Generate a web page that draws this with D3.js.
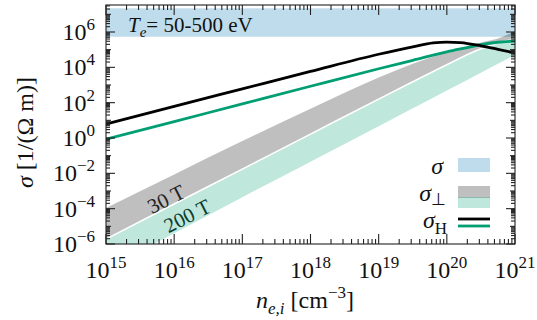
<!DOCTYPE html>
<html>
  <head>
    <meta charset="UTF-8" />
    <style>
      body { margin: 0; background: #fff; }
      svg { font-family: "Times New Roman", Times, "Liberation Serif", serif; }
    </style>
  </head>
  <body>
    <svg></svg>
    <script src="https://d3js.org/d3.v7.min.js"></script>
    <script>
      // all values are log10: [log10 n (cm^-3), log10 sigma (1/(Ohm m))]
      let sigmaBand = [5.73, 7.34]; // T_e = 50-500 eV
      let nGrid = [15, 16, 17, 18, 19, 19.5, 20, 20.5, 20.8, 21];
      let perp30Top = [-3.96, -2.06, -0.17, 1.65, 3.42, 4.2, 4.85, 5.4, 5.7, 6.05];
      let perp30Bottom = [-5.72, -3.74, -1.76, 0.22, 2.2, 3.18, 4.15, 5.05, 5.42, 5.6];
      let perp200Bottom = [-7.4, -5.39, -3.35, -1.34, 0.67, 1.68, 2.69, 3.7, 4.3, 4.7];
      let hall30 = [
        [15, 0.79], [16, 1.79], [17, 2.78], [18, 3.77], [19, 4.74],
        [19.5, 5.16], [19.8, 5.38], [20, 5.43], [20.2, 5.4], [20.5, 5.22],
        [20.75, 5.02], [21, 4.81],
      ];
      let hall200 = [
        [15, -0.07], [16, 0.93], [17, 1.93], [18, 2.93], [19, 3.92],
        [19.5, 4.4], [20, 4.88], [20.3, 5.12], [20.5, 5.28], [20.75, 5.42], [21, 5.49],
      ];
      let xTicks = [15, 16, 17, 18, 19, 20, 21];
      let yTicks = [-6, -4, -2, 0, 2, 4, 6];

      let width = 537,
        height = 320;
      let svg = d3.select("svg").attr("width", width).attr("height", height);

      let m = { left: 106, right: 515, top: 5, bottom: 244 };
      let x = d3.scaleLog().domain([1e15, 1e21]).range([m.left, m.right]);
      let y = d3.scaleLog().domain([1e-6, 1e6]).range([244, 32]);
      let X = (e) => x(Math.pow(10, e));
      let Y = (e) => y(Math.pow(10, e));

      svg.append("defs").append("clipPath").attr("id", "plot")
        .append("rect").attr("x", m.left).attr("y", m.top)
        .attr("width", m.right - m.left).attr("height", m.bottom - m.top);

      let plot = svg.append("g").attr("clip-path", "url(#plot)");

      // sigma band
      plot.append("rect")
        .attr("x", X(15)).attr("width", X(21) - X(15))
        .attr("y", Y(sigmaBand[1])).attr("height", Y(sigmaBand[0]) - Y(sigmaBand[1]))
        .attr("fill", "#0072b2").attr("fill-opacity", 0.25);

      let band = (topVals, botVals) => d3.area()
        .x((d, i) => X(nGrid[i]))
        .y0((d, i) => Y(botVals[i]))
        .y1((d, i) => Y(topVals[i]))
        .curve(d3.curveMonotoneX)(nGrid);

      plot.append("path").attr("d", band(perp30Top, perp30Bottom))
        .attr("fill", "#000").attr("fill-opacity", 0.25);
      plot.append("path").attr("d", band(perp30Bottom, perp200Bottom))
        .attr("fill", "#009e73").attr("fill-opacity", 0.25);
      plot.append("path")
        .attr("d", d3.line().x((d, i) => X(nGrid[i])).y((d) => Y(d)).curve(d3.curveMonotoneX)(perp30Bottom))
        .attr("fill", "none").attr("stroke", "#fff").attr("stroke-width", 1.6);

      let line = d3.line().x((d) => X(d[0])).y((d) => Y(d[1])).curve(d3.curveMonotoneX);
      plot.append("path").attr("d", line(hall200))
        .attr("fill", "none").attr("stroke", "#009e73").attr("stroke-width", 2.8);
      plot.append("path").attr("d", line(hall30))
        .attr("fill", "none").attr("stroke", "#000").attr("stroke-width", 2.8);

      // band labels
      plot.append("text").attr("transform", `translate(${X(15.88)},${Y(-3.45)}) rotate(-27)`)
        .attr("text-anchor", "middle").attr("dy", "0.35em")
        .attr("font-size", 21).attr("fill", "#222").text("30 T");
      plot.append("text").attr("transform", `translate(${X(16.19)},${Y(-4.4)}) rotate(-27)`)
        .attr("text-anchor", "middle").attr("dy", "0.35em")
        .attr("font-size", 21).attr("fill", "#0b3b2e").text("200 T");

      // T_e label
      let te = svg.append("text").attr("x", 128).attr("y", 32).attr("font-size", 21).attr("fill", "#111");
      te.append("tspan").attr("font-style", "italic").text("T");
      te.append("tspan").attr("font-style", "italic").attr("font-size", 15).attr("dy", 5).text("e");
      te.append("tspan").attr("dy", -5).text("= 50-500 eV");

      // frame and ticks
      let axisG = svg.append("g").attr("stroke", "#222").attr("stroke-width", 1.1);
      axisG.append("rect").attr("x", m.left).attr("y", m.top)
        .attr("width", m.right - m.left).attr("height", m.bottom - m.top).attr("fill", "none");

      let minor = [2, 3, 4, 5, 6, 7, 8, 9];
      xTicks.forEach((e) => {
        let px = X(e);
        axisG.append("line").attr("x1", px).attr("x2", px).attr("y1", m.bottom).attr("y2", m.bottom - 10);
        axisG.append("line").attr("x1", px).attr("x2", px).attr("y1", m.top).attr("y2", m.top + 10);
        if (e < 21) minor.forEach((k) => {
          let mx = x(k * Math.pow(10, e));
          axisG.append("line").attr("x1", mx).attr("x2", mx).attr("y1", m.bottom).attr("y2", m.bottom - 5);
          axisG.append("line").attr("x1", mx).attr("x2", mx).attr("y1", m.top).attr("y2", m.top + 5);
        });
      });
      d3.range(-6, 8).forEach((e) => {
        let py = Y(e);
        let len = e % 2 === 0 ? 9 : 5;
        if (py >= m.top) {
          axisG.append("line").attr("x1", m.left).attr("x2", m.left + len).attr("y1", py).attr("y2", py);
          axisG.append("line").attr("x1", m.right).attr("x2", m.right - len).attr("y1", py).attr("y2", py);
        }
        minor.forEach((k) => {
          let my = y(k * Math.pow(10, e));
          if (my < m.top) return;
          axisG.append("line").attr("x1", m.left).attr("x2", m.left + 4).attr("y1", my).attr("y2", my);
          axisG.append("line").attr("x1", m.right).attr("x2", m.right - 4).attr("y1", my).attr("y2", my);
        });
      });

      // tick labels
      xTicks.forEach((e) => {
        let t = svg.append("text").attr("x", X(e)).attr("y", m.bottom + 34)
          .attr("text-anchor", "middle").attr("font-size", 24).attr("fill", "#111");
        t.append("tspan").text("10");
        t.append("tspan").attr("font-size", 17).attr("dy", -10).text(e);
      });
      yTicks.forEach((e) => {
        let t = svg.append("text").attr("x", 95).attr("y", Y(e) + 8)
          .attr("text-anchor", "end").attr("font-size", 24).attr("fill", "#111");
        t.append("tspan").text("10");
        t.append("tspan").attr("font-size", 17).attr("dy", -10).text(e < 0 ? "\u2212" + -e : e);
      });

      // axis titles
      let yt = svg.append("text").attr("transform", `translate(33,${(m.top + m.bottom) / 2 + 8}) rotate(-90)`)
        .attr("text-anchor", "middle").attr("font-size", 24).attr("fill", "#111");
      yt.append("tspan").attr("font-style", "italic").text("\u03c3");
      yt.append("tspan").text(" [1/(\u03a9 m)]");

      let xt = svg.append("text").attr("x", 305).attr("y", 308)
        .attr("text-anchor", "middle").attr("font-size", 24).attr("fill", "#111");
      xt.append("tspan").attr("font-style", "italic").text("n");
      xt.append("tspan").attr("font-style", "italic").attr("font-size", 17).attr("dy", 6).text("e,i");
      xt.append("tspan").attr("dy", -6).text(" [cm");
      xt.append("tspan").attr("font-size", 17).attr("dy", -10).text("\u22123");
      xt.append("tspan").attr("dy", 10).text("]");

      // legend
      let lg = svg.append("g");
      let lx = 458, lw = 32;
      lg.append("text").attr("x", 443).attr("y", 174).attr("text-anchor", "end")
        .attr("font-size", 24).attr("font-style", "italic").attr("fill", "#111").text("\u03c3");
      lg.append("rect").attr("x", lx).attr("y", 158).attr("width", lw).attr("height", 14)
        .attr("fill", "#0072b2").attr("fill-opacity", 0.25);

      let s2 = lg.append("text").attr("x", 446).attr("y", 201).attr("text-anchor", "end")
        .attr("font-size", 24).attr("fill", "#111");
      s2.append("tspan").attr("font-style", "italic").text("\u03c3");
      s2.append("tspan").attr("font-size", 17).attr("dy", 4).text("\u22a5");
      lg.append("rect").attr("x", lx).attr("y", 186).attr("width", lw).attr("height", 12)
        .attr("fill", "#000").attr("fill-opacity", 0.25);
      lg.append("rect").attr("x", lx).attr("y", 197).attr("width", lw).attr("height", 11)
        .attr("fill", "#009e73").attr("fill-opacity", 0.25);

      let s3 = lg.append("text").attr("x", 447).attr("y", 228).attr("text-anchor", "end")
        .attr("font-size", 24).attr("fill", "#111");
      s3.append("tspan").attr("font-style", "italic").text("\u03c3");
      s3.append("tspan").attr("font-size", 17).attr("dy", 6).text("H");
      lg.append("line").attr("x1", lx).attr("x2", lx + lw).attr("y1", 219).attr("y2", 219)
        .attr("stroke", "#000").attr("stroke-width", 2.8);
      lg.append("line").attr("x1", lx).attr("x2", lx + lw).attr("y1", 226).attr("y2", 226)
        .attr("stroke", "#009e73").attr("stroke-width", 2.8);
    </script>
  </body>
</html>
